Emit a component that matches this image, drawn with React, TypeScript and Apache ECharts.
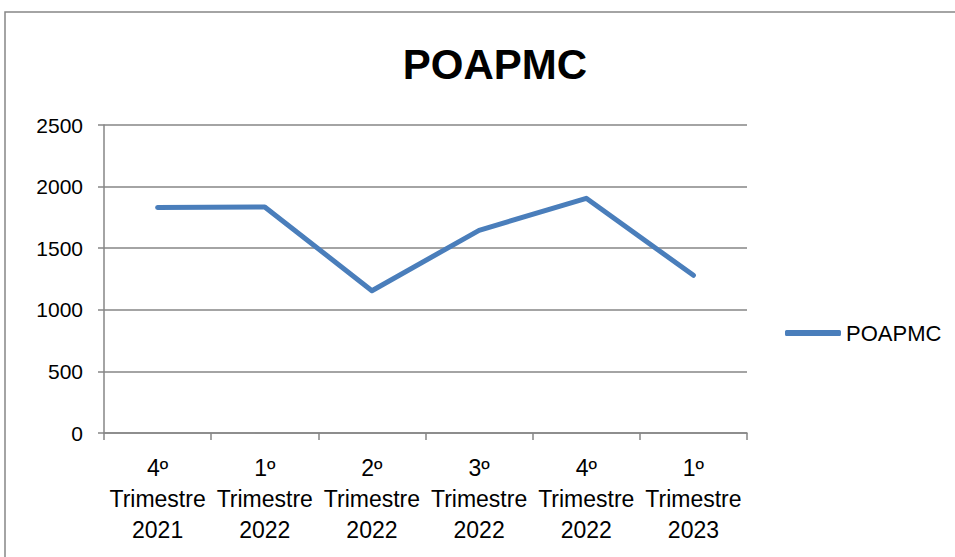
import React, { useEffect, useRef } from "react";
import * as echarts from "echarts";

const categories = [
  "4º\nTrimestre\n2021",
  "1º\nTrimestre\n2022",
  "2º\nTrimestre\n2022",
  "3º\nTrimestre\n2022",
  "4º\nTrimestre\n2022",
  "1º\nTrimestre\n2023",
];
const seriesName = "POAPMC";
const values = [1830, 1835, 1155, 1645, 1905, 1280];
const yTicks = { min: 0, max: 2500, interval: 500 };

const FONT = "'Liberation Sans', Arial, sans-serif";
const GRAY = "#868686";
const BLUE = "#4A7EBB";

export default function App() {
  const ref = useRef<HTMLDivElement>(null);
  useEffect(() => {
    if (!ref.current) return;
    const chart = echarts.init(ref.current, null, { renderer: "svg" });
    chart.setOption({
      animation: false,
      backgroundColor: "#ffffff",
      textStyle: { fontFamily: FONT, color: "#000" },
      title: {
        text: seriesName,
        left: 490,
        textAlign: "center",
        top: 38,
        textStyle: { fontFamily: FONT, fontSize: 42, fontWeight: "bold", color: "#000" },
      },
      graphic: [
        {
          type: "rect",
          shape: { x: 5, y: 12, width: 965, height: 570 },
          style: { fill: "none", stroke: GRAY, lineWidth: 1.5 },
          silent: true,
          z: -1,
        },
      ],
      legend: {
        left: 780,
        top: 317,
        itemWidth: 56,
        itemHeight: 6,
        itemGap: 5,
        data: [{ name: seriesName, icon: "roundRect" }],
        textStyle: { fontFamily: FONT, fontSize: 22, color: "#000", padding: [0, 0, 0, 0] },
      },
      grid: { left: 104, right: 208, top: 125, bottom: 124, containLabel: false },
      xAxis: {
        type: "category",
        data: categories,
        boundaryGap: true,
        axisLine: { lineStyle: { color: GRAY, width: 1.5 } },
        axisTick: { show: true, length: 7, alignWithLabel: false, lineStyle: { color: GRAY, width: 1.5 } },
        axisLabel: {
          interval: 0,
          margin: 19,
          fontFamily: FONT,
          fontSize: 23,
          lineHeight: 31,
          color: "#000",
        },
      },
      yAxis: {
        type: "value",
        min: yTicks.min,
        max: yTicks.max,
        interval: yTicks.interval,
        axisLine: { show: true, lineStyle: { color: GRAY, width: 1.5 } },
        axisTick: { show: true, length: 6, lineStyle: { color: GRAY, width: 1.5 } },
        splitLine: { show: true, lineStyle: { color: GRAY, width: 1.5 } },
        axisLabel: {
          margin: 21,
          fontFamily: FONT,
          fontSize: 21,
          color: "#000",
          formatter: (v: number) => String(v),
        },
      },
      series: [
        {
          name: seriesName,
          type: "line",
          data: values,
          symbol: "none",
          color: BLUE,
          lineStyle: { color: BLUE, width: 5, cap: "round", join: "round" },
        },
      ],
    });
    return () => chart.dispose();
  }, []);
  return <div ref={ref} style={{ width: 955, height: 557, position: "absolute", left: 0, top: 0 }} />;
}
